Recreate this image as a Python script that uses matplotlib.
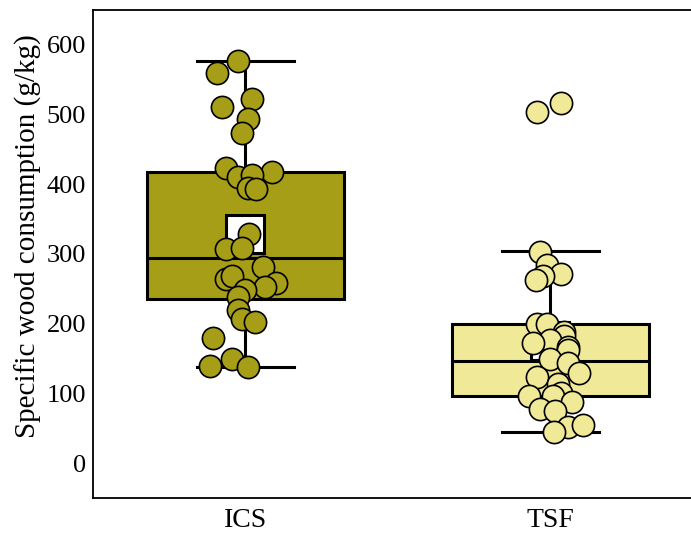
import numpy as np
import matplotlib
matplotlib.use("Agg")
import matplotlib.pyplot as plt

plt.rcParams["font.family"] = ["Liberation Serif", "DejaVu Serif"]

# Groups and box statistics (g/kg)
groups = ["ICS", "TSF"]
box_q1 = [236, 97]
box_median = [294, 146]
box_q3 = [417, 199]
whisker_low = [138, 44]
whisker_high = [577, 304]
group_mean = [328, 175]

# Individual observations and their horizontal jitter offsets
ics_values = [577, 560, 523, 511, 494, 474, 424, 417, 410, 413, 394, 393,
              329, 307, 308, 281, 264, 268, 258, 253, 248, 238, 219, 207, 202,
              179, 140, 150, 138]
ics_jitter = [-0.023, -0.092, 0.020, -0.076, 0.007, -0.013, -0.063, 0.086,
              -0.026, 0.020, 0.007, 0.036,
              0.010, -0.063, -0.013, 0.059, -0.063, -0.043, 0.099, 0.063,
              0.000, -0.026, -0.026, -0.010, 0.030,
              -0.105, -0.118, -0.043, 0.007]
tsf_values = [503, 516, 303, 284, 272, 269, 262,
              200, 199, 188, 183, 176, 173, 166, 162,
              150, 143, 130, 123, 113,
              100, 97, 96, 88, 78, 75,
              52, 44, 54]
tsf_jitter = [-0.043, 0.036, -0.033, -0.010, 0.033, -0.023, -0.049,
              -0.043, -0.010, 0.043, 0.043, 0.000, -0.056, 0.056, 0.059,
              0.000, 0.056, 0.095, -0.043, 0.026,
              0.033, 0.007, -0.072, 0.072, -0.033, 0.016,
              0.056, 0.010, 0.105]

box_colors = ["#a69e17", "#f0ea98"]

fig = plt.figure(figsize=(6.91, 5.33), dpi=100)
ax = fig.add_axes([93 / 691, 35 / 533, 610 / 691, 488 / 533])

stats = []
for i, name in enumerate(groups):
    stats.append(dict(label=name, q1=box_q1[i], med=box_median[i], q3=box_q3[i],
                      whislo=whisker_low[i], whishi=whisker_high[i],
                      mean=group_mean[i], fliers=[]))

bp = ax.bxp(stats, positions=[1, 2], widths=0.645, patch_artist=True,
            showmeans=True, showfliers=False,
            boxprops=dict(linewidth=2.2, edgecolor="black"),
            medianprops=dict(color="black", linewidth=2.2),
            whiskerprops=dict(color="black", linewidth=2.2),
            capprops=dict(color="black", linewidth=2.2),
            capwidths=0.32,
            meanprops=dict(marker="s", markersize=27, markerfacecolor="white",
                           markeredgecolor="black", markeredgewidth=2.2))
for patch, c in zip(bp["boxes"], box_colors):
    patch.set_facecolor(c)

for pos, vals, jit, c in [(1, ics_values, ics_jitter, box_colors[0]),
                          (2, tsf_values, tsf_jitter, box_colors[1])]:
    ax.scatter(pos + np.array(jit), vals, s=16 ** 2, facecolor=c,
               edgecolor="black", linewidth=1.2, zorder=5)

ax.set_xlim(0.5, 2.5)
ax.set_ylim(-50, 650)
ax.set_yticks([0, 100, 200, 300, 400, 500, 600])
ax.set_xticks([1, 2])
ax.set_xticklabels(groups)
ax.tick_params(axis="y", length=0, labelsize=19, pad=5)
ax.tick_params(axis="x", length=0, labelsize=20, pad=7)
ax.spines["right"].set_visible(False)
for s in ["left", "bottom", "top"]:
    ax.spines[s].set_linewidth(1.3)
ax.set_ylabel("Specific wood consumption (g/kg)", fontsize=21)
ax.yaxis.set_label_coords(-0.084, 0.537)

fig.savefig("out.png", dpi=100)
